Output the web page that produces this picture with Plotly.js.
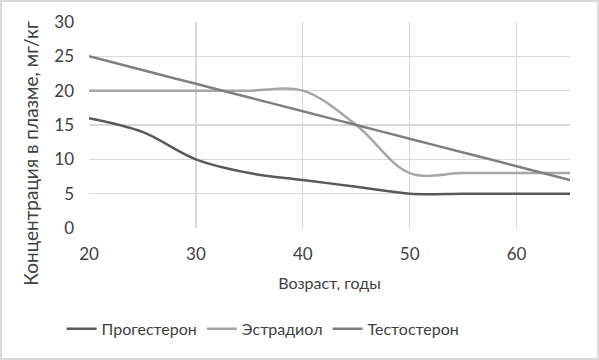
<!DOCTYPE html>
<html><head><meta charset="utf-8">
<script src="https://cdn.plot.ly/plotly-3.0.1.min.js"></script>
<style>
html,body{margin:0;padding:0;background:#fff;}
#wrap{width:595px;height:356px;border:2px solid #d9d9d9;}
#chart{width:595px;height:356px;}
</style></head>
<body><div id="wrap"><div id="chart"></div></div>
<script>
const ages = [20, 25, 30, 35, 40, 45, 50, 55, 60, 65];
const progesterone = [16, 14, 10, 8, 7, 6, 5, 5, 5, 5];
const estradiol = [20, 20, 20, 20, 20, 15, 8, 8, 8, 8];
const testosterone = [25, 23, 21, 19, 17, 15, 13, 11, 9, 7];
const seriesNames = ['Прогестерон', 'Эстрадиол', 'Тестостерон'];
const xTicks = [20, 30, 40, 50, 60];
const yTicks = [0, 5, 10, 15, 20, 25, 30];
const xTitle = 'Возраст, годы';
const yTitle = 'Концентрация в плазме, мг/кг';

const fam = 'Lato, "Open Sans", sans-serif';
const font = {family: fam, size: 16, color: '#404040'};
const tickFont = {family: fam, size: 17, color: '#404040'};
const traces = [
  {x: ages, y: progesterone, name: seriesNames[0], mode: 'lines', line: {color: '#595959', width: 2.5, shape: 'spline', smoothing: 1}},
  {x: ages, y: estradiol, name: seriesNames[1], mode: 'lines', line: {color: '#a6a6a6', width: 2.5, shape: 'spline', smoothing: 1}},
  {x: ages, y: testosterone, name: seriesNames[2], mode: 'lines', line: {color: '#7f7f7f', width: 2.5, shape: 'spline', smoothing: 1}}
];
const layout = {
  width: 595, height: 356,
  margin: {l: 87, r: 27, t: 20, b: 130},
  paper_bgcolor: '#fff', plot_bgcolor: '#fff',
  font: font,
  showlegend: true,
  legend: {orientation: 'h', x: 0.362, xanchor: 'center', y: -0.49, yanchor: 'middle', font: font, traceorder: 'normal', itemwidth: 30},
  xaxis: {range: [20, 65], tickvals: xTicks, showgrid: true, gridcolor: '#d9d9d9', gridwidth: 1.3, zeroline: false, showline: false, ticks: '', tickfont: tickFont,
          ticklabelstandoff: 14,
          title: {text: xTitle, font: font, standoff: 14}},
  yaxis: {range: [0, 30], tickvals: yTicks, showgrid: true, gridcolor: '#d9d9d9', gridwidth: 1.3, zeroline: false, showline: false, ticks: '', tickfont: tickFont,
          ticklabelstandoff: 14},
  annotations: [{text: yTitle, xref: 'paper', yref: 'paper', x: 0, y: 0.36, xshift: -58, xanchor: 'center', yanchor: 'middle',
                 textangle: -90, showarrow: false, font: {family: fam, size: 19, color: '#404040'}}]
};
Plotly.newPlot('chart', traces, layout, {displayModeBar: false, staticPlot: true});
</script></body></html>
